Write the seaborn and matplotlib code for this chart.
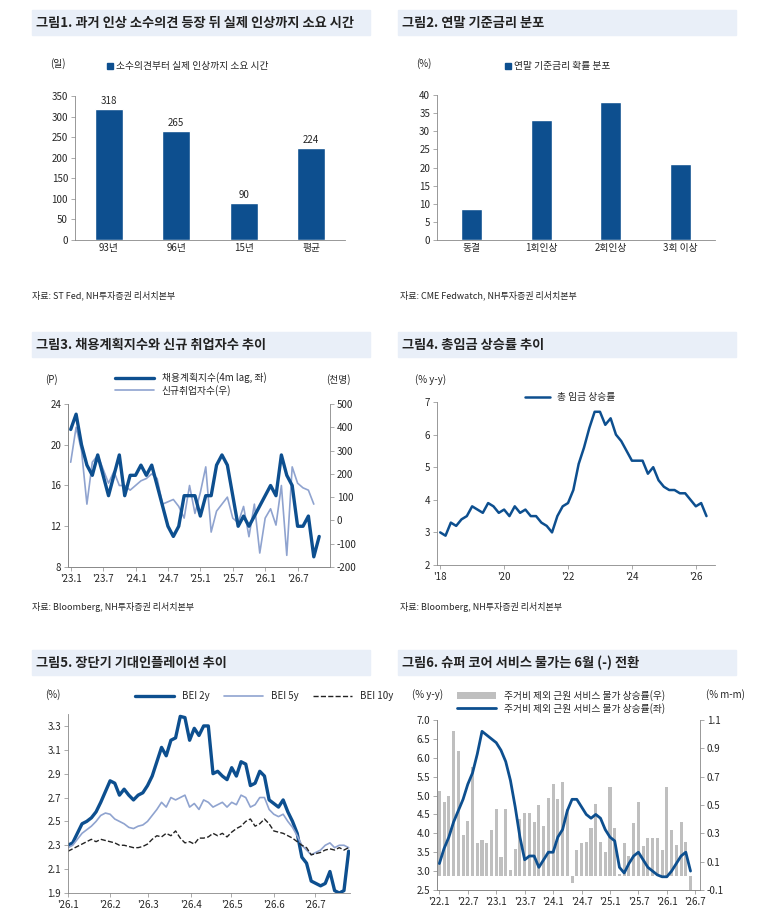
import numpy as np
import pandas as pd
import matplotlib
matplotlib.use("Agg")
import matplotlib.pyplot as plt
from matplotlib.patches import Rectangle
import seaborn as sns

sns.set_theme(style="white")
plt.rcParams['font.family'] = ['Noto Sans CJK KR', 'DejaVu Sans']
plt.rcParams['font.size'] = 7
plt.rcParams['axes.unicode_minus'] = False

DARK = "#0d4f8f"
LIGHT = "#8fa3cf"
GREY = "#bfbfbf"

# ---- data ----
p1_cats = ["93년", "96년", "15년", "평균"]
p1_vals = [318, 265, 90, 224]

p2_cats = ["동결", "1회인상", "2회인상", "3회 이상"]
p2_vals = [8.5, 33, 38, 21]

# monthly from '23.1
p3_hiring = [21.5, 23, 20, 18, 17, 19, 17, 15, 17, 19, 15, 17, 17, 18, 17, 18, 16, 14,
             12, 11, 12, 15, 15, 15, 13, 15, 15, 18, 19, 18, 15, 12, 13, 12, 13, 14,
             15, 16, 15, 19, 17, 16, 12, 12, 13, 9, 11]
p3_jobs = [250, 400, 300, 70, 250, 280, 220, 160, 210, 150, 150, 130, 150, 170, 180, 200,
           180, 70, 80, 90, 60, 10, 150, 30, 120, 230, -50, 40, 70, 100, 10, -10, 60, -70,
           70, -140, 10, 50, -20, 150, -150, 230, 160, 140, 130, 70]
p3_ticks = ["'23.1", "'23.7", "'24.1", "'24.7", "'25.1", "'25.7", "'26.1", "'26.7"]

# every 2 months from 2018.1
p4_wage = [3.0, 2.9, 3.3, 3.2, 3.4, 3.5, 3.8, 3.7, 3.6, 3.9, 3.8, 3.6, 3.7, 3.5, 3.8, 3.6,
           3.7, 3.5, 3.5, 3.3, 3.2, 3.0, 3.5, 3.8, 3.9, 4.3, 5.1, 5.6, 6.2, 6.7, 6.7, 6.3,
           6.5, 6.0, 5.8, 5.5, 5.2, 5.2, 5.2, 4.8, 5.0, 4.6, 4.4, 4.3, 4.3, 4.2, 4.2, 4.0,
           3.8, 3.9, 3.5]
p4_ticks = ["'18", "'20", "'22", "'24", "'26"]

p5_bei2 = [2.30, 2.32, 2.40, 2.48, 2.50, 2.53, 2.58, 2.66, 2.75, 2.84, 2.82, 2.72, 2.77, 2.72,
           2.68, 2.72, 2.74, 2.80, 2.88, 3.00, 3.12, 3.05, 3.18, 3.20, 3.38, 3.37, 3.18, 3.28,
           3.22, 3.30, 3.30, 2.90, 2.92, 2.88, 2.85, 2.95, 2.88, 3.00, 2.98, 2.80, 2.82, 2.92,
           2.88, 2.68, 2.65, 2.62, 2.68, 2.58, 2.50, 2.40, 2.20, 2.15, 2.00, 1.98, 1.96, 1.98,
           2.08, 1.92, 1.90, 1.92, 2.25]
p5_bei5 = [2.28, 2.30, 2.35, 2.40, 2.43, 2.46, 2.50, 2.55, 2.57, 2.56, 2.52, 2.50, 2.48, 2.45,
           2.44, 2.46, 2.47, 2.50, 2.55, 2.60, 2.66, 2.62, 2.70, 2.68, 2.70, 2.72, 2.62, 2.65,
           2.60, 2.68, 2.66, 2.62, 2.64, 2.66, 2.62, 2.66, 2.64, 2.72, 2.70, 2.62, 2.64, 2.70,
           2.70, 2.60, 2.56, 2.54, 2.56, 2.50, 2.45, 2.38, 2.30, 2.26, 2.22, 2.24, 2.26, 2.30,
           2.32, 2.28, 2.30, 2.30, 2.28]
p5_bei10 = [2.25, 2.27, 2.29, 2.31, 2.33, 2.35, 2.33, 2.35, 2.34, 2.33, 2.32, 2.30, 2.30, 2.29,
            2.28, 2.28, 2.29, 2.31, 2.35, 2.38, 2.37, 2.40, 2.38, 2.42, 2.36, 2.32, 2.33, 2.31,
            2.36, 2.36, 2.37, 2.40, 2.38, 2.40, 2.37, 2.41, 2.44, 2.46, 2.50, 2.52, 2.46, 2.48,
            2.52, 2.48, 2.42, 2.41, 2.40, 2.38, 2.36, 2.33, 2.30, 2.28, 2.22, 2.23, 2.24, 2.26,
            2.27, 2.26, 2.28, 2.26, 2.28]
p5_ticks = ["'26.1", "'26.2", "'26.3", "'26.4", "'26.5", "'26.6", "'26.7"]

# monthly from '22.1
p6_yoy = [3.2, 3.6, 3.9, 4.3, 4.6, 4.9, 5.3, 5.6, 6.1, 6.7, 6.6, 6.5, 6.4, 6.2, 5.9, 5.4, 4.7,
          3.9, 3.3, 3.4, 3.4, 3.1, 3.3, 3.5, 3.5, 3.9, 4.1, 4.6, 4.9, 4.9, 4.7, 4.5, 4.4, 4.5,
          4.4, 4.1, 3.9, 3.8, 3.1, 2.95, 3.2, 3.4, 3.5, 3.3, 3.1, 3.0, 2.9, 2.85, 2.85, 3.0,
          3.2, 3.4, 3.5, 3.0]
p6_mom = [0.60, 0.52, 0.56, 1.02, 0.88, 0.29, 0.39, 0.77, 0.23, 0.25, 0.23, 0.32,
          0.47, 0.13, 0.47, 0.04, 0.19, 0.40, 0.44, 0.44, 0.38, 0.50, 0.35, 0.55,
          0.65, 0.54, 0.66, 0.47, -0.05, 0.18, 0.23, 0.24, 0.34, 0.51, 0.24, 0.17,
          0.63, 0.34, 0.01, 0.23, 0.14, 0.37, 0.52, 0.21, 0.27, 0.27, 0.27, 0.18,
          0.63, 0.32, 0.22, 0.38, 0.24, -0.12]
p6_ticks = ["'22.1", "'22.7", "'23.1", "'23.7", "'24.1", "'24.7", "'25.1", "'25.7", "'26.1", "'26.7"]

W, H = 769, 919
fig = plt.figure(figsize=(W / 100, H / 100), dpi=100)


def fx(px):
    return px / W


def fy(py):
    return 1 - py / H


def add_axes(l, t, r, b):
    return fig.add_axes([fx(l), fy(b), fx(r - l), (b - t) / H])


def style(ax, right=False):
    for s in ["top", "right"]:
        ax.spines[s].set_visible(False)
    ax.spines["left"].set_color("#888888")
    ax.spines["bottom"].set_color("#888888")
    ax.spines["left"].set_linewidth(0.6)
    ax.spines["bottom"].set_linewidth(0.6)
    ax.tick_params(axis="both", labelsize=7, length=3, width=0.5, color="#888888",
                   direction="out", left=True, bottom=True, pad=2)
    ax.grid(False)
    ax.set_xlabel("")
    ax.set_ylabel("")


def band(x0, y0, title):
    fig.patches.append(Rectangle((fx(x0), fy(y0 + 25)), fx(338), 25 / H,
                                 transform=fig.transFigure, color="#e9eff8", zorder=0))
    fig.text(fx(x0 + 4), fy(y0 + 12.5), title, fontsize=9.5, fontweight="bold",
             va="center", color="#222222")


band(32, 10, "그림1. 과거 인상 소수의견 등장 뒤 실제 인상까지 소요 시간")
band(398, 10, "그림2. 연말 기준금리 분포")
band(32, 332, "그림3. 채용계획지수와 신규 취업자수 추이")
band(398, 332, "그림4. 총임금 상승률 추이")
band(32, 650, "그림5. 장단기 기대인플레이션 추이")
band(398, 650, "그림6. 슈퍼 코어 서비스 물가는 6월 (-) 전환")

fig.text(fx(32), fy(295), "자료: ST Fed, NH투자증권 리서치본부", fontsize=6.5, va="center")
fig.text(fx(400), fy(295), "자료: CME Fedwatch, NH투자증권 리서치본부", fontsize=6.5, va="center")
fig.text(fx(32), fy(607), "자료: Bloomberg, NH투자증권 리서치본부", fontsize=6.5, va="center")
fig.text(fx(400), fy(607), "자료: Bloomberg, NH투자증권 리서치본부", fontsize=6.5, va="center")

# ---- panel 1 ----
ax1 = add_axes(75, 96, 345, 240)
sns.barplot(x=p1_cats, y=p1_vals, color=DARK, width=0.42, ax=ax1, saturation=1)
ax1.set_ylim(0, 350)
ax1.set_yticks(range(0, 351, 50))
for i, v in enumerate(p1_vals):
    ax1.text(i, v + 8, str(v), ha="center", va="bottom", fontsize=7)
style(ax1)
ax1.tick_params(axis="x", length=0)
fig.text(fx(50), fy(64), "(일)", fontsize=7, va="center")
fig.patches.append(Rectangle((fx(107), fy(69)), fx(6), 6 / H, transform=fig.transFigure, color=DARK))
fig.text(fx(116), fy(66), "소수의견부터 실제 인상까지 소요 시간", fontsize=7, va="center")

# ---- panel 2 ----
ax2 = add_axes(437, 95, 715, 240)
sns.barplot(x=p2_cats, y=p2_vals, color=DARK, width=0.3, ax=ax2, saturation=1)
ax2.set_ylim(0, 40)
ax2.set_yticks(range(0, 41, 5))
style(ax2)
ax2.tick_params(axis="x", length=0)
fig.text(fx(416), fy(64), "(%)", fontsize=7, va="center")
fig.patches.append(Rectangle((fx(505), fy(69)), fx(6), 6 / H, transform=fig.transFigure, color=DARK))
fig.text(fx(514), fy(66), "연말 기준금리 확률 분포", fontsize=7, va="center")

# ---- panel 3 ----
ax3 = add_axes(68, 404, 330, 567)
ax3r = ax3.twinx()
sns.lineplot(x=np.arange(len(p3_jobs)), y=p3_jobs, color=LIGHT, lw=1.2, ax=ax3r,
             label="신규취업자수(우)", legend=False)
sns.lineplot(x=np.arange(len(p3_hiring)), y=p3_hiring, color=DARK, lw=2.4, ax=ax3,
             label="채용계획지수(4m lag, 좌)", legend=False)
ax3.set_zorder(ax3r.get_zorder() + 1)
ax3.patch.set_visible(False)
ax3.set_ylim(8, 24)
ax3.set_yticks(range(8, 25, 4))
ax3r.set_ylim(-200, 500)
ax3r.set_yticks(range(-200, 501, 100))
ax3.set_xlim(-0.5, 48)
ax3.set_xticks(range(0, 48, 6))
ax3.set_xticklabels(p3_ticks)
style(ax3)
style(ax3r)
ax3r.spines["right"].set_visible(True)
ax3r.spines["right"].set_color("#888888")
ax3r.spines["right"].set_linewidth(0.6)
ax3r.tick_params(axis="y", right=True, left=False)
h1, l1 = ax3.get_legend_handles_labels()
h2, l2 = ax3r.get_legend_handles_labels()
fig.legend(h1 + h2, l1 + l2, loc="center left", bbox_to_anchor=(fx(110), fy(384)),
           frameon=False, fontsize=7, handlelength=4, labelspacing=0.2, borderpad=0)
fig.text(fx(45), fy(380), "(P)", fontsize=7, va="center")
fig.text(fx(326), fy(380), "(천명)", fontsize=7, va="center")

# ---- panel 4 ----
ax4 = add_axes(437, 402, 715, 565)
xs4 = 2018 + np.arange(len(p4_wage)) * 2 / 12
sns.lineplot(x=xs4, y=p4_wage, color=DARK, lw=1.8, ax=ax4, label="총 임금 상승률")
ax4.set_ylim(2, 7)
ax4.set_xlim(2017.9, 2026.6)
ax4.set_xticks([2018, 2020, 2022, 2024, 2026])
ax4.set_xticklabels(p4_ticks)
style(ax4)
ax4.legend(loc="center left", bbox_to_anchor=(0.3, 1.03), frameon=False, fontsize=7,
           handlelength=2.5, borderpad=0)
fig.text(fx(415), fy(380), "(% y-y)", fontsize=7, va="center")

# ---- panel 5 ----
ax5 = add_axes(68, 714, 350, 893)
d5 = pd.date_range("2026-01-01", "2026-07-26", periods=len(p5_bei2))
sns.lineplot(x=d5, y=p5_bei2, color=DARK, lw=2.4, ax=ax5, label="BEI 2y")
sns.lineplot(x=d5, y=p5_bei5, color=LIGHT, lw=1.2, ax=ax5, label="BEI 5y")
sns.lineplot(x=d5, y=p5_bei10, color="#222222", lw=1.0, ls="--", ax=ax5, label="BEI 10y")
ax5.set_ylim(1.9, 3.4)
ax5.set_yticks(np.arange(1.9, 3.35, 0.2))
ax5.set_yticklabels([f"{v:.1f}" for v in np.arange(1.9, 3.35, 0.2)])
m5 = pd.date_range("2026-01-01", "2026-07-01", freq="MS")
ax5.set_xticks(m5)
ax5.set_xticklabels(p5_ticks)
ax5.set_xlim(pd.Timestamp("2026-01-01"), pd.Timestamp("2026-07-27"))
style(ax5)
ax5.legend(loc="center left", bbox_to_anchor=(0.22, 1.1), frameon=False, fontsize=7,
           ncol=3, handlelength=4, columnspacing=1.5, borderpad=0)
fig.text(fx(45), fy(695), "(%)", fontsize=7, va="center")

# ---- panel 6 ----
ax6 = add_axes(437, 720, 700, 890)
ax6r = ax6.twinx()
idx6 = np.arange(len(p6_mom))
ax6r.bar(idx6, p6_mom, color=GREY, width=0.65, edgecolor="none", linewidth=0,
         label="주거비 제외 근원 서비스 물가 상승률(우)")
sns.lineplot(x=np.arange(len(p6_yoy)), y=p6_yoy, color=DARK, lw=2.0, ax=ax6,
             label="주거비 제외 근원 서비스 물가 상승률(좌)", legend=False)
ax6.set_zorder(ax6r.get_zorder() + 1)
ax6.patch.set_visible(False)
ax6.set_ylim(2.5, 7.0)
ax6.set_yticks(np.arange(2.5, 7.01, 0.5))
ax6.set_yticklabels([f"{v:.1f}" for v in np.arange(2.5, 7.01, 0.5)])
ax6r.set_ylim(-0.1, 1.1)
ax6r.set_yticks(np.arange(-0.1, 1.11, 0.2))
ax6r.set_yticklabels(["-0.1", "0.1", "0.3", "0.5", "0.7", "0.9", "1.1"])
ax6.set_xlim(-0.5, 55)
ax6.set_xticks(range(0, 55, 6))
ax6.set_xticklabels(p6_ticks)
style(ax6)
style(ax6r)
ax6r.spines["right"].set_visible(True)
ax6r.spines["right"].set_color("#888888")
ax6r.spines["right"].set_linewidth(0.6)
ax6r.tick_params(axis="y", right=True, left=False)
h1, l1 = ax6r.get_legend_handles_labels()
h2, l2 = ax6.get_legend_handles_labels()
fig.legend(h1 + h2, l1 + l2, loc="center left", bbox_to_anchor=(fx(452), fy(702)),
           frameon=False, fontsize=7, handlelength=4, labelspacing=0.2, borderpad=0)
fig.text(fx(412), fy(695), "(% y-y)", fontsize=7, va="center")
fig.text(fx(706), fy(695), "(% m-m)", fontsize=7, va="center")

fig.savefig("out.png", dpi=100)
